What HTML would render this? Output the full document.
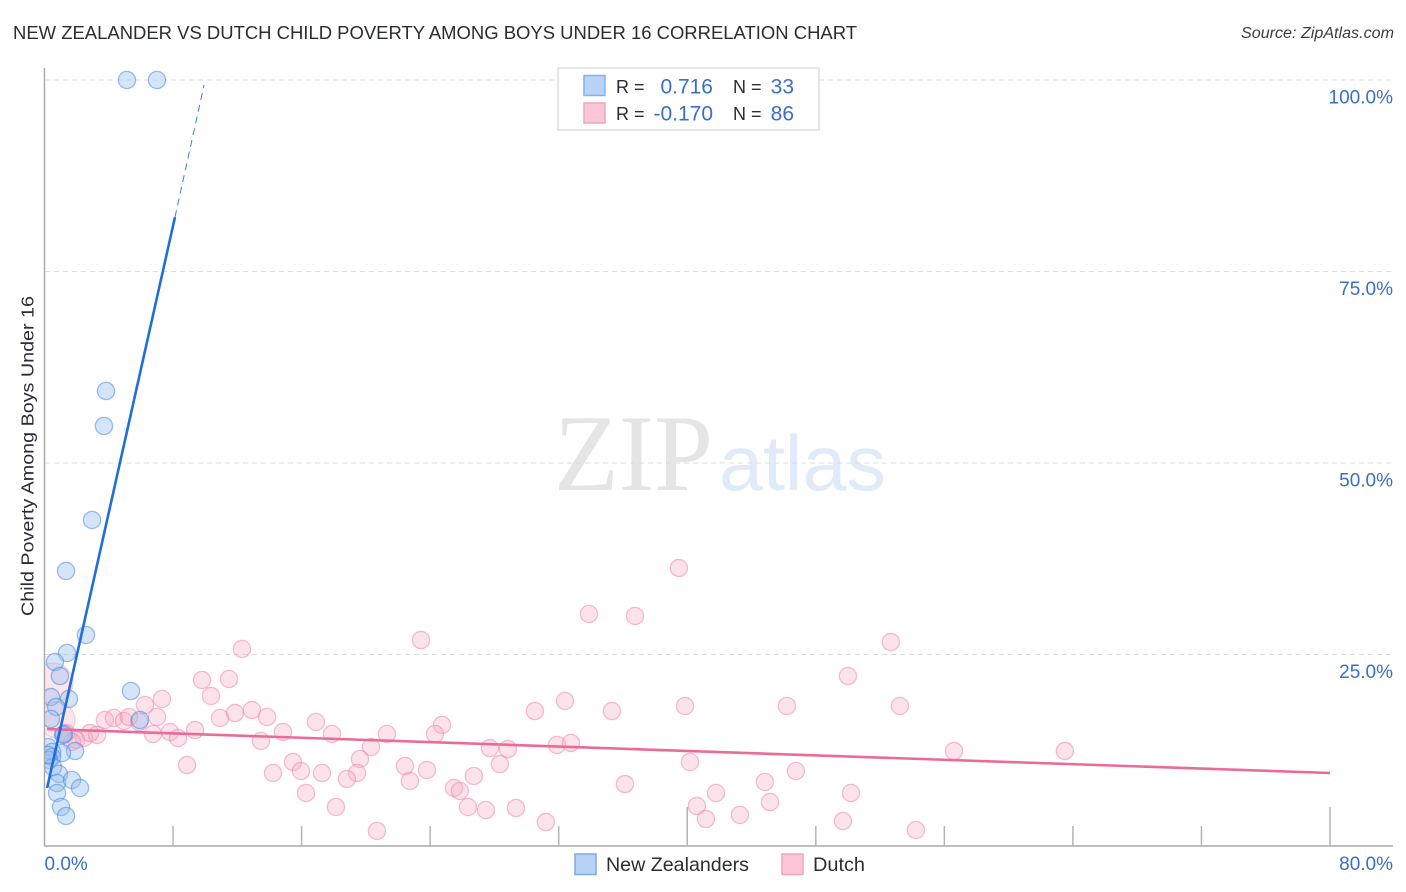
<!DOCTYPE html>
<html>
<head>
<meta charset="utf-8">
<title>New Zealander vs Dutch Child Poverty Among Boys Under 16 Correlation Chart</title>
<style>
html,body{margin:0;padding:0;background:#fff;width:1406px;height:892px;overflow:hidden}
svg{display:block}
text{font-family:"Liberation Sans",sans-serif}
</style>
</head>
<body>
<svg id="chart" xmlns="http://www.w3.org/2000/svg" width="1406" height="892" viewBox="0 0 1406 892">
  <defs>
    <clipPath id="plot-clip"><rect x="45" y="60" width="1350" height="786"/></clipPath>
  </defs>
  <rect x="0" y="0" width="1406" height="892" fill="#ffffff"/>
  <text x="13" y="39" font-size="18.5" fill="#2a2d33" textLength="844" lengthAdjust="spacingAndGlyphs">NEW ZEALANDER VS DUTCH CHILD POVERTY AMONG BOYS UNDER 16 CORRELATION CHART</text>
  <text x="1241" y="38" font-size="15.5" font-style="italic" fill="#3a3d42" textLength="153" lengthAdjust="spacingAndGlyphs">Source: ZipAtlas.com</text>
  <text transform="translate(33.5,456) rotate(-90)" font-size="17.5" fill="#2a2d33" text-anchor="middle" textLength="320" lengthAdjust="spacingAndGlyphs">Child Poverty Among Boys Under 16</text>

  <g>
    <text x="554" y="490" font-size="109" fill="#e5e5e5" textLength="159" lengthAdjust="spacingAndGlyphs" style="font-family:'Liberation Serif',serif">ZIP</text>
    <text x="719" y="490" font-size="78" fill="#e0eaf9" textLength="167" lengthAdjust="spacingAndGlyphs">atlas</text>
  </g>

  <g id="grid"></g>
  <g id="axes"></g>
  <g id="points" clip-path="url(#plot-clip)"></g>
  <g id="trends"></g>
  <g id="labels"></g>

  <g>
    <rect x="558" y="68" width="261" height="62" fill="#ffffff" fill-opacity="0.9" stroke="#dddddd" stroke-width="1.5"/>
    <rect x="584" y="75.5" width="21" height="20" fill="#b9d3f7" stroke="#86b2ea" stroke-width="1.5"/>
    <rect x="584" y="103" width="21" height="20" fill="#fcc6d8" stroke="#f0a5bf" stroke-width="1.5"/>
    <text x="616" y="93" font-size="18" fill="#2a2d33">R =</text>
    <text x="616" y="120" font-size="18" fill="#2a2d33">R =</text>
    <text x="713" y="93.5" font-size="21" fill="#3a6fc9" text-anchor="end">0.716</text>
    <text x="713" y="120.5" font-size="21" fill="#3a6fc9" text-anchor="end">-0.170</text>
    <text x="733" y="93" font-size="18" fill="#2a2d33">N =</text>
    <text x="733" y="120" font-size="18" fill="#2a2d33">N =</text>
    <text x="794" y="93.5" font-size="21" fill="#3a6fc9" text-anchor="end">33</text>
    <text x="794" y="120.5" font-size="21" fill="#3a6fc9" text-anchor="end">86</text>
  </g>

  <g>
    <g>
      <rect x="575" y="854" width="21" height="20.5" fill="#b9d3f7" stroke="#7fa9e3" stroke-width="1.5"/>
      <text x="606" y="871" font-size="19.5" fill="#2a2d33" textLength="143" lengthAdjust="spacingAndGlyphs">New Zealanders</text>
    </g>
    <g>
      <rect x="782" y="854" width="21" height="20.5" fill="#fcc6d8" stroke="#f0a5bf" stroke-width="1.5"/>
      <text x="813" y="871" font-size="19.5" fill="#2a2d33" textLength="52" lengthAdjust="spacingAndGlyphs">Dutch</text>
    </g>
  </g>
</svg>
<script>
const yTicks = [25, 50, 75, 100];
const yTickLabels = ["25.0%", "50.0%", "75.0%", "100.0%"];
const xTicks = [0, 8, 16, 24, 32, 40, 48, 56, 64, 72, 80];
const xMajorTicks = [40, 80];
const xEndLabels = ["0.0%", "80.0%"];

const nzX = [5.13,7.00,3.83,3.70,2.96,1.34,2.58,1.40,0.65,0.96,5.38,1.52,0.40,0.72,0.40,5.94,1.15,1.90,1.09,0.22,0.47,0.47,0.28,0.53,0.90,0.78,1.71,2.21,0.78,1.03,1.34,0.22,1.21];
const nzY = [100,100,59.4,54.83,42.56,35.9,27.55,25.2,24.02,22.19,20.23,19.19,19.45,18.15,16.58,16.45,14.49,12.4,12.14,12.92,12.27,11.62,11.23,10.31,9.4,8.22,8.62,7.57,6.92,5.09,3.92,11.88,14.62];

const dutchX = [39.48,33.88,36.75,23.43,52.67,12.29,50.0,11.48,9.8,10.36,7.31,32.39,6.25,12.91,39.86,46.2,53.23,30.52,35.31,11.85,10.92,13.85,16.89,24.74,3.76,4.32,4.95,5.26,5.88,7.0,6.75,7.81,8.31,9.37,13.47,14.84,17.89,21.31,24.3,20.32,27.72,28.84,31.89,32.76,56.6,63.5,8.87,14.22,15.46,15.96,17.27,19.63,19.45,18.82,22.43,23.8,22.74,28.34,26.72,25.48,25.85,26.35,27.47,29.34,31.2,36.12,40.17,41.79,40.6,41.16,43.28,45.15,44.83,46.76,49.69,50.19,54.23,20.69,16.27,18.14,2.46,3.27,2.83,1.96,1.71,1.34];
const dutchY = [36.29,30.29,30.03,26.89,26.63,25.72,22.19,21.8,21.67,19.58,19.19,18.93,18.41,17.75,18.28,18.28,18.28,17.62,17.62,17.36,16.71,16.84,16.19,15.8,16.45,16.71,16.32,16.84,16.19,16.84,14.62,14.88,14.1,15.14,13.71,14.88,14.62,14.62,14.62,12.92,12.79,12.66,13.19,13.45,12.4,12.4,10.57,9.53,10.97,9.79,9.53,11.36,9.53,8.75,10.44,9.92,8.49,10.7,9.14,7.57,7.18,5.09,4.7,4.96,3.13,8.09,10.97,6.92,5.22,3.52,4.05,5.74,8.36,9.79,3.26,6.92,2.09,1.96,6.92,5.09,14.1,14.49,14.75,13.84,13.58,14.75];
const dutchLargeX = [0.53, 0.78];
const dutchLargeY = [21.28, 16.45];
const dutchLargeWeight = [20, 18];

const nzTrendX = [0.16, 8.12];
const nzTrendY = [7.57, 82.1];
const nzTrendExtX = [8.12, 9.93];
const nzTrendExtY = [82.1, 99.35];
const dutchTrendX = [0.16, 80];
const dutchTrendY = [15.27, 9.53];

const SVGNS = "http://www.w3.org/2000/svg";
function sx(v){ return 44.5 + v * (1330 - 44.5) / 80; }
function sy(v){ return 846 - v * (846 - 80) / 100; }
function mk(tag, parent, attrs){
  const el = document.createElementNS(SVGNS, tag);
  for (const k in attrs) el.setAttribute(k, attrs[k]);
  parent.appendChild(el);
  return el;
}
const grid = document.getElementById("grid");
const axes = document.getElementById("axes");
const pointsG = document.getElementById("points");
const trends = document.getElementById("trends");
const labels = document.getElementById("labels");

yTicks.forEach(function(t, i){
  const line = mk("line", grid, {x1:45, x2:1393, y1:sy(t), y2:sy(t), stroke:"#dcdcdc", "stroke-width":1, "stroke-dasharray":"5 4"});
  
  
  const lab = mk("text", labels, {x:1393, y:sy(t)+23.5, "font-size":19, fill:"#3a6fc9", "text-anchor":"end"});
  lab.textContent = yTickLabels[i];
  
  
});

const yAxis = mk("line", axes, {x1:44.5, x2:44.5, y1:68, y2:846.5, stroke:"#aaaaaa", "stroke-width":1.5});


const xAxis = mk("line", axes, {x1:44, x2:1393, y1:846, y2:846, stroke:"#aaaaaa", "stroke-width":1.5});


xTicks.forEach(function(t){
  if (t === 0) return;
  const tall = xMajorTicks.indexOf(t) >= 0;
  const tick = mk("line", axes, {x1:sx(t), x2:sx(t), y1:tall ? 807 : 826, y2:846, stroke:"#b4b4b4", "stroke-width":1.5});
  
  
});
const xLabelLeft = mk("text", labels, {x:44.5, y:870, "font-size":19, fill:"#3a6fc9"});
xLabelLeft.textContent = xEndLabels[0];


const xLabelRight = mk("text", labels, {x:1393, y:870, "font-size":19, fill:"#3a6fc9", "text-anchor":"end"});
xLabelRight.textContent = xEndLabels[1];



dutchLargeX.forEach(function(x, i){
  const c = mk("circle", pointsG, {cx:sx(x), cy:sy(dutchLargeY[i]), r:dutchLargeWeight[i], fill:"#f7a8c2", "fill-opacity":0.3, stroke:"#ec7fa6", "stroke-opacity":0.3, "stroke-width":1.3});
  
  
});
dutchX.forEach(function(x, i){
  const c = mk("circle", pointsG, {cx:sx(x), cy:sy(dutchY[i]), r:8.6, fill:"#f7a8c2", "fill-opacity":0.32, stroke:"#ec7fa6", "stroke-opacity":0.5, "stroke-width":1.3});
  
  
});
nzX.forEach(function(x, i){
  const c = mk("circle", pointsG, {cx:sx(x), cy:sy(nzY[i]), r:8.6, fill:"#97bff0", "fill-opacity":0.4, stroke:"#4d88dc", "stroke-opacity":0.55, "stroke-width":1.3});
  
  
});

const dutchLine = mk("line", trends, {x1:sx(dutchTrendX[0]), y1:sy(dutchTrendY[0]), x2:sx(dutchTrendX[1]), y2:sy(dutchTrendY[1]), stroke:"#ea6a9a", "stroke-width":2.6});


const nzLine = mk("line", trends, {x1:sx(nzTrendX[0]), y1:sy(nzTrendY[0]), x2:sx(nzTrendX[1]), y2:sy(nzTrendY[1]), stroke:"#1f6fd8", "stroke-width":2.6});


const nzExt = mk("line", trends, {x1:sx(nzTrendExtX[0]), y1:sy(nzTrendExtY[0]), x2:sx(nzTrendExtX[1]), y2:sy(nzTrendExtY[1]), stroke:"#3f7fd9", "stroke-width":1, "stroke-dasharray":"7 5"});


</script>
</body>
</html>
